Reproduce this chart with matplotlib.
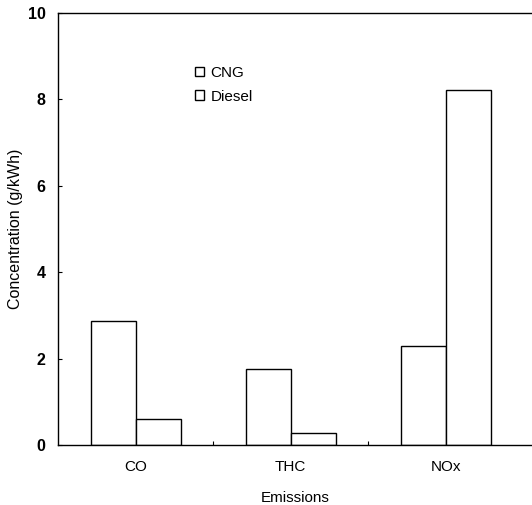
import matplotlib.pyplot as plt
from matplotlib.patches import Rectangle
import numpy as np

plt.rcParams['font.family'] = ['Liberation Sans', 'DejaVu Sans']

emissions = ['CO', 'THC', 'NOx']
cng = [2.88, 1.76, 2.28]
diesel = [0.61, 0.27, 8.21]

x = np.arange(len(emissions))
width = 0.29

fig = plt.figure(figsize=(5.32, 5.05), dpi=100)
ax = fig.add_axes([0.109, 0.119, 0.891, 0.855])

ax.bar(x - width / 2, cng, width, color='white', edgecolor='black', linewidth=1.0, label='CNG')
ax.bar(x + width / 2, diesel, width, color='white', edgecolor='black', linewidth=1.0, label='Diesel')

ax.set_xlim(-0.5, 2.555)
ax.set_ylim(0, 10)
ax.set_yticks([0, 2, 4, 6, 8, 10])
ax.set_xticks(x)
ax.set_xticklabels(emissions, fontsize=11)
ax.set_xticks([0.5, 1.5], minor=True)
ax.tick_params(axis='x', which='major', length=0, pad=11)
ax.tick_params(axis='x', which='minor', direction='in', length=3, width=0.8)
ax.tick_params(axis='y', direction='in', length=3, width=0.8, labelsize=11.5, pad=9)
for lab in ax.get_yticklabels():
    lab.set_fontweight('bold')

ax.spines['right'].set_visible(False)
for s in ['left', 'top', 'bottom']:
    ax.spines[s].set_linewidth(1.0)

ax.set_xlabel('Emissions', fontsize=11, labelpad=12)
ax.set_ylabel('Concentration (g/kWh)', fontsize=11.5, labelpad=3)

handles = [Rectangle((0, 0), 1, 1, facecolor='white', edgecolor='black', linewidth=1.0),
           Rectangle((0, 0), 1, 1, facecolor='white', edgecolor='black', linewidth=1.0)]
ax.legend(handles, ['CNG', 'Diesel'], loc='upper left', bbox_to_anchor=(0.26, 0.91),
          frameon=False, fontsize=11, handlelength=0.6, handleheight=0.6,
          handletextpad=0.4, labelspacing=0.65)

plt.savefig('out.png', dpi=100)
